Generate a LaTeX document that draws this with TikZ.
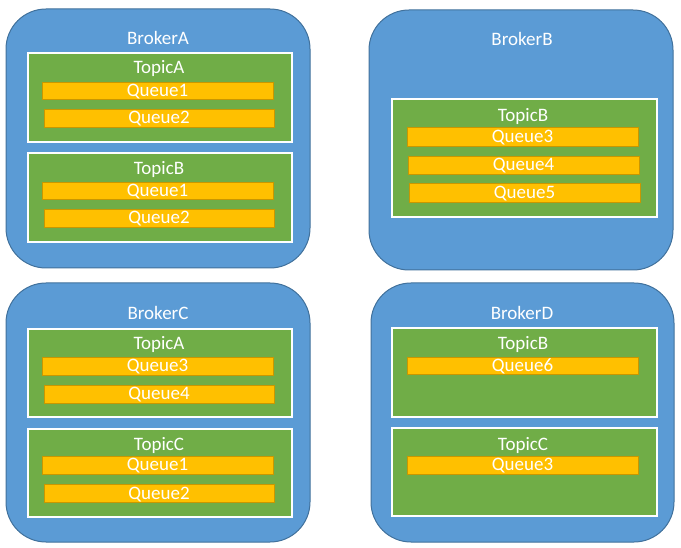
\documentclass[tikz,border=0pt]{standalone}
\usepackage{fontspec}
\setmainfont{Carlito}
\definecolor{brokerblue}{HTML}{5B9BD5}
\definecolor{brokerline}{HTML}{41719C}
\definecolor{topicgreen}{HTML}{70AD47}
\definecolor{queuegold}{HTML}{FFC000}
\definecolor{queueline}{HTML}{C99700}
\tikzset{
	box/.style={anchor=north west, inner sep=0pt, outer sep=0pt},
	broker/.style={box, draw=brokerline, fill=brokerblue, line width=1pt, rounded corners=40pt},
	topic/.style={box, draw=white, fill=topicgreen, line width=1.5pt},
	queue/.style={box, draw=queueline, fill=queuegold, line width=0.8pt, text=white,
		font=\fontsize{19}{21}\selectfont, text height=12pt, text depth=0pt},
	lbl/.style={text=white, inner sep=0pt, font=\fontsize{19}{21}\selectfont}
}
\begin{document}
\begin{tikzpicture}[x=1pt,y=-1pt]
			\useasboundingbox (0,0) rectangle (681,548);

			% BrokerA
			\node[broker, minimum width=304pt, minimum height=259pt] (brokerA) at (6,9) {};
			\node[lbl] (brokerA-name) at (158,38) {BrokerA};
			\node[topic, minimum width=264pt, minimum height=89pt] (brokerA-topicA) at (28,53) {};
			\node[lbl] (brokerA-topicA-name) at (159,68) {TopicA};
			\node[queue, minimum width=231pt, minimum height=17pt] (brokerA-topicA-q1) at (42,82) {Queue1};
			\node[queue, minimum width=230pt, minimum height=18pt] (brokerA-topicA-q2) at (44,109) {Queue2};
			\node[topic, minimum width=264pt, minimum height=89pt] (brokerA-topicB) at (28,153) {};
			\node[lbl] (brokerA-topicB-name) at (159,169) {TopicB};
			\node[queue, minimum width=231pt, minimum height=17pt] (brokerA-topicB-q1) at (42,182) {Queue1};
			\node[queue, minimum width=230pt, minimum height=18pt] (brokerA-topicB-q2) at (44,209) {Queue2};

			% BrokerB
			\node[broker, minimum width=304pt, minimum height=260pt] (brokerB) at (369,10) {};
			\node[lbl] (brokerB-name) at (522,39) {BrokerB};
			\node[topic, minimum width=265pt, minimum height=118pt] (brokerB-topicB) at (392,99) {};
			\node[lbl] (brokerB-topicB-name) at (523,116) {TopicB};
			\node[queue, minimum width=231pt, minimum height=19pt] (brokerB-topicB-q3) at (407,127) {Queue3};
			\node[queue, minimum width=231pt, minimum height=18pt] (brokerB-topicB-q4) at (408,156) {Queue4};
			\node[queue, minimum width=231pt, minimum height=19pt] (brokerB-topicB-q5) at (409,183) {Queue5};

			% BrokerC
			\node[broker, minimum width=304pt, minimum height=259pt] (brokerC) at (6,283) {};
			\node[lbl] (brokerC-name) at (158,313) {BrokerC};
			\node[topic, minimum width=264pt, minimum height=88pt] (brokerC-topicA) at (28,329) {};
			\node[lbl] (brokerC-topicA-name) at (159,344) {TopicA};
			\node[queue, minimum width=231pt, minimum height=18pt] (brokerC-topicA-q3) at (42,357) {Queue3};
			\node[queue, minimum width=230pt, minimum height=18pt] (brokerC-topicA-q4) at (44,385) {Queue4};
			\node[topic, minimum width=264pt, minimum height=88pt] (brokerC-topicC) at (28,429) {};
			\node[lbl] (brokerC-topicC-name) at (159,445) {TopicC};
			\node[queue, minimum width=231pt, minimum height=18pt] (brokerC-topicC-q1) at (42,456) {Queue1};
			\node[queue, minimum width=230pt, minimum height=18pt] (brokerC-topicC-q2) at (44,484) {Queue2};

			% BrokerD
			\node[broker, minimum width=303pt, minimum height=259pt] (brokerD) at (371,283) {};
			\node[lbl] (brokerD-name) at (522,313) {BrokerD};
			\node[topic, minimum width=265pt, minimum height=89pt] (brokerD-topicB) at (392,328) {};
			\node[lbl] (brokerD-topicB-name) at (523,344) {TopicB};
			\node[queue, minimum width=231pt, minimum height=17pt] (brokerD-topicB-q6) at (407,357) {Queue6};
			\node[topic, minimum width=265pt, minimum height=88pt] (brokerD-topicC) at (392,428) {};
			\node[lbl] (brokerD-topicC-name) at (523,445) {TopicC};
			\node[queue, minimum width=231pt, minimum height=18pt] (brokerD-topicC-q3) at (407,456) {Queue3};
		\end{tikzpicture}
\end{document}
